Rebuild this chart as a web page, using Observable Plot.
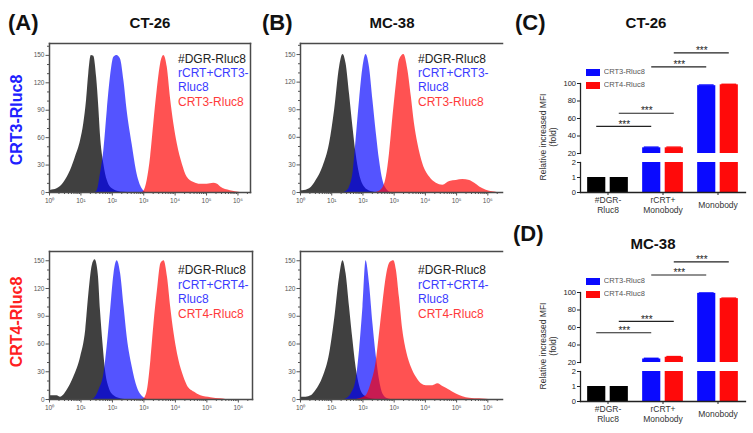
<!DOCTYPE html>
<html><head><meta charset="utf-8">
<script src="https://cdn.jsdelivr.net/npm/d3@7"></script>
<script src="https://cdn.jsdelivr.net/npm/@observablehq/plot@0.6"></script>
<style>
body{margin:0;background:#fff;font-family:Arial,"Liberation Sans",sans-serif}
#fig{position:relative;width:753px;height:433px;overflow:hidden;background:#fff}
.t{position:absolute;white-space:pre;line-height:1}
.p{position:absolute}
</style></head>
<body><div id="fig"></div>
<script>
// ---------- Histogram data: [log10 intensity, count] ----------
const histLogTicks = [0, 1, 2, 3, 4, 5, 6];
const histYTicks = [0, 30, 60, 90, 120, 150];

const ct26Crt3Dgr = [[0,2],[0.03,2.2],[0.24,4],[0.46,11],[0.67,24],[0.83,39],[0.99,57],[1.09,75],[1.18,101],[1.25,130],[1.33,150],[1.41,149],[1.5,126],[1.57,93],[1.62,64],[1.73,31],[1.84,13],[2.0,4],[2.26,0.5],[2.5,0]];
const ct26Crt3Rcrt = [[1.45,0],[1.52,2],[1.62,20],[1.73,46],[1.84,90],[1.94,126],[2.05,148],[2.15,150],[2.26,146],[2.37,122],[2.47,90],[2.63,53],[2.79,20],[2.95,4],[3.06,0]];
const ct26Crt3Only = [[2.95,0],[3.0,1],[3.11,13],[3.22,39],[3.32,75],[3.43,112],[3.54,141],[3.64,150],[3.75,137],[3.85,104],[3.96,75],[4.07,53],[4.23,31],[4.38,17],[4.6,11],[4.81,9],[5.02,9],[5.23,10],[5.35,9],[5.45,6],[5.76,2],[6.08,0]];

const mc38Crt3Dgr = [[0,2],[0.07,2],[0.29,4],[0.5,13],[0.72,28],[0.93,53],[1.09,89],[1.25,136],[1.36,150],[1.46,140],[1.57,107],[1.68,71],[1.78,42],[1.89,20],[2.05,6],[2.26,1],[2.4,0]];
const mc38Crt3Rcrt = [[1.4,0],[1.46,1],[1.57,6],[1.68,21],[1.78,57],[1.89,100],[2.0,136],[2.1,150],[2.21,136],[2.32,100],[2.43,64],[2.53,35],[2.64,13],[2.8,2],[2.9,0]];
const mc38Crt3Only = [[2.4,0],[2.59,3],[2.75,17],[2.85,42],[2.96,82],[3.07,118],[3.17,144],[3.31,150],[3.44,133],[3.55,104],[3.65,75],[3.76,53],[3.92,31],[4.13,17],[4.35,10],[4.56,8],[4.78,12],[4.99,13],[5.2,14],[5.42,13],[5.58,10],[5.74,6],[5.95,2.5],[6.16,0.7],[6.3,0]];

const ct26Crt4Dgr = [[0,3],[0.03,4],[0.24,4],[0.35,2.5],[0.56,10],[0.77,24],[0.99,46],[1.15,75],[1.25,114],[1.36,145],[1.45,151],[1.55,135],[1.62,96],[1.7,60],[1.78,31],[1.89,13],[2.05,4],[2.26,0.7],[2.4,0]];
const ct26Crt4Rcrt = [[1.35,0],[1.41,0.7],[1.57,10],[1.73,28],[1.84,60],[1.94,96],[2.05,136],[2.15,150],[2.26,136],[2.37,100],[2.47,67],[2.63,35],[2.79,13],[3.0,2],[3.1,0]];
const ct26Crt4Only = [[2.95,0],[3.0,0.7],[3.11,10],[3.22,42],[3.32,82],[3.43,118],[3.54,147],[3.64,150],[3.75,132],[3.85,100],[3.96,71],[4.07,49],[4.23,28],[4.38,15],[4.6,8],[4.81,4],[5.13,2],[5.45,0.7],[5.6,0]];

const mc38Crt4Dgr = [[0,2.5],[0.18,2.5],[0.34,4],[0.5,10],[0.72,24],[0.93,49],[1.09,86],[1.25,132],[1.36,150],[1.46,136],[1.57,100],[1.68,64],[1.78,35],[1.89,15],[2.05,4],[2.26,0.7],[2.4,0]];
const mc38Crt4Rcrt = [[1.4,0],[1.46,0.7],[1.62,6],[1.78,21],[1.89,53],[2.0,100],[2.1,150],[2.21,125],[2.32,82],[2.43,46],[2.53,21],[2.64,6],[2.8,0.7],[2.9,0]];
const mc38Crt4Only = [[1.8,0],[1.89,0.7],[2.1,4],[2.26,17],[2.43,42],[2.53,71],[2.64,104],[2.75,133],[2.87,148],[2.99,150],[3.07,140],[3.17,110],[3.28,74],[3.39,53],[3.55,35],[3.71,24],[3.87,17],[4.03,15],[4.24,15],[4.4,17],[4.56,14],[4.78,10],[4.99,6],[5.2,3],[5.42,1.4],[5.74,0.7],[5.95,0.4],[6.1,0]];

// ---------- Bar chart data ----------
const groups = ["#DGR-\nRluc8", "rCRT+\nMonobody", "Monobody"];
const seriesNames = ["CRT3-Rluc8", "CRT4-Rluc8"];
const ct26Crt3Mfi = [1, 26.5, 97.5];
const ct26Crt4Mfi = [1, 26.5, 98.5];
const ct26Crt3Err = [0, 0.8, 0.8];
const ct26Crt4Err = [0, 0.8, 0.6];
const mc38Crt3Mfi = [1, 24, 99];
const mc38Crt4Mfi = [1, 26, 93];
const mc38Crt3Err = [0, 0.8, 0.5];
const mc38Crt4Err = [0, 0.8, 0.6];
// significance comparisons: [groupA, seriesA, groupB, seriesB]
const sigPairs = [[0,0,1,0],[0,1,1,1],[1,0,2,0],[1,1,2,1]];
const ct26SigLevels = [51, 66, 119, 135];
const mc38SigLevels = [54, 67, 120, 135];

// ---------- styles ----------
const FONT = "Arial, 'Liberation Sans', sans-serif";
const grayFill = "#000", blueFill = "#0000ff", redFill = "#ff0000";
const seriesColors = ["#0a0aff", "#ff0a0a"];
const sup = ["\u2070","\u00b9","\u00b2","\u00b3","\u2074","\u2075","\u2076"];
const fig = document.getElementById("fig");

function place(node, left, top) {
  const d = document.createElement("div");
  d.className = "p"; d.style.left = left + "px"; d.style.top = top + "px";
  d.appendChild(node); fig.appendChild(d); return d;
}
function addText(txt, x, y, o = {}) {
  const d = document.createElement("div");
  d.className = "t"; d.textContent = txt;
  d.style.left = x + "px"; d.style.top = y + "px";
  d.style.fontSize = (o.size || 12) + "px";
  d.style.fontWeight = o.weight || "normal";
  d.style.color = o.color || "#222";
  const tx = o.anchor === "middle" ? "-50%" : "0";
  d.style.transform = `translate(${tx},-50%)`;
  if (o.rotate) d.style.transform = `translate(-50%,-50%) rotate(${o.rotate}deg)`;
  fig.appendChild(d);
}

function histogram(series, {xMax, yMax, width, height, marginTop, marginBottom, anchors}) {
  const minorX = d3.range(0, 7).flatMap(n => d3.range(2, 10).map(k => n + Math.log10(k))).filter(v => v < xMax);
  const minorY = d3.range(0, yMax, 10).filter(v => v % 30 !== 0);
  return Plot.plot({
    width, height, marginLeft: 49, marginRight: 5, marginTop, marginBottom,
    style: {background: "transparent", fontFamily: FONT, color: "#555", overflow: "visible"},
    x: {domain: [0, xMax]},
    y: {domain: [0, yMax]},
    marks: [
      ...series.map(s => Plot.areaY(s.data, {x: d => d[0], y: d => d[1], fill: s.color, fillOpacity: s.opacity, curve: "monotone-x"})),
      Plot.axisX({ticks: minorX, tickSize: 2, tickFormat: () => "", label: null}),
      Plot.axisX({ticks: histLogTicks, tickSize: 3.5, tickPadding: 2, tickFormat: d => "10" + sup[d], fontSize: 6.5, label: null}),
      Plot.axisY({ticks: minorY, tickSize: 2, tickFormat: () => "", label: null}),
      Plot.axisY({ticks: histYTicks, tickSize: 3.5, tickPadding: 1.5, tickFormat: d => String(d), fontSize: 6.5, label: null}),
      ...anchors.map(a => Plot.frame({anchor: a, stroke: "#4a4a4a", strokeWidth: 1.5}))
    ]
  });
}

function seriesSet(dgr, rcrt, only) {
  return [
    {data: dgr, color: grayFill, opacity: 0.75},
    {data: rcrt, color: blueFill, opacity: 0.67},
    {data: only, color: redFill, opacity: 0.68}
  ];
}

// Histograms
const full = ["top", "right", "bottom", "left"];
const cropped = ["top", "bottom", "left"];
place(histogram(seriesSet(ct26Crt3Dgr, ct26Crt3Rcrt, ct26Crt3Only), {xMax: 6.4, yMax: 163, width: 255, height: 180, marginTop: 10, marginBottom: 21, anchors: full}), 0, 33);
place(histogram(seriesSet(mc38Crt3Dgr, mc38Crt3Rcrt, mc38Crt3Only), {xMax: 6.47, yMax: 162, width: 256, height: 180, marginTop: 10, marginBottom: 21, anchors: cropped}), 251, 33);
place(histogram(seriesSet(ct26Crt4Dgr, ct26Crt4Rcrt, ct26Crt4Only), {xMax: 6.45, yMax: 160, width: 257, height: 180, marginTop: 10, marginBottom: 22, anchors: full}), 0, 241);
place(histogram(seriesSet(mc38Crt4Dgr, mc38Crt4Rcrt, mc38Crt4Only), {xMax: 6.47, yMax: 160, width: 256, height: 180, marginTop: 10, marginBottom: 22, anchors: cropped}), 251, 241);

// Bar charts (broken y axis: upper 20–100, lower 0–2)
const barW = 0.33, barGap = 0.08;
function barChart(top, crt3, crt4, err3, err4, sigLevels) {
  const rows = groups.flatMap((g, i) => [
    {g: i, s: 0, v: crt3[i], e: err3[i]},
    {g: i, s: 1, v: crt4[i], e: err4[i]}
  ]);
  const xl = d => d.g + (d.s === 0 ? -(barGap / 2 + barW) : barGap / 2);
  const xr = d => xl(d) + barW;
  const center = (g, s) => xl({g, s}) + barW / 2;
  const fillOf = d => d.g === 0 ? "#000" : seriesColors[d.s];
  const common = {
    width: 253, marginLeft: 80, marginRight: 8,
    color: {type: "identity"},
    style: {background: "transparent", fontFamily: FONT, color: "#222", overflow: "visible"}
  };
  const hi = rows.filter(d => d.v > 20);
  const upper = Plot.plot({
    ...common, height: 122, marginTop: 48, marginBottom: 4,
    x: {domain: [-0.5, 2.5], axis: null},
    y: {domain: [20, 100]},
    marks: [
      Plot.rectY(hi, {x1: xl, x2: xr, y1: 20, y2: d => d.v, fill: fillOf}),
      Plot.ruleY(hi, {x1: d => xl(d) + 0.03, x2: d => xr(d) - 0.03, y: d => d.v + d.e, stroke: fillOf, strokeWidth: 1.4}),
      Plot.ruleY(sigPairs, {x1: p => center(p[0], p[1]), x2: p => center(p[2], p[3]), y: (p, i) => sigLevels[i], stroke: "#222", strokeWidth: 1.1}),
      Plot.text(sigPairs, {x: p => (center(p[0], p[1]) + center(p[2], p[3])) / 2, y: (p, i) => sigLevels[i], text: () => "***", dy: -2, fontSize: 10, fill: "#222"}),
      Plot.axisY({ticks: [20, 40, 60, 80, 100], tickSize: 3, tickPadding: 1.5, tickFormat: d => String(d), fontSize: 7.5, label: null}),
      Plot.frame({anchor: "left", stroke: "#222", strokeWidth: 1.3})
    ]
  });
  const lower = Plot.plot({
    ...common, height: 63, marginTop: 5, marginBottom: 28,
    x: {domain: [-0.5, 2.5]},
    y: {domain: [0, 2]},
    marks: [
      Plot.rectY(rows, {x1: xl, x2: xr, y1: 0, y2: d => Math.min(d.v, 2), fill: fillOf}),
      Plot.axisY({ticks: [0, 1, 2], tickSize: 3, tickPadding: 1.5, tickFormat: d => String(d), fontSize: 7.5, label: null}),
      Plot.axisX({ticks: [0, 1, 2], tickSize: 3, tickFormat: () => "", label: null}),
      Plot.text(groups, {x: (d, i) => i, frameAnchor: "bottom", dy: 12, lineAnchor: "middle", fontSize: 8.5, lineHeight: 1.2, fill: "#333"}),
      Plot.frame({anchor: "left", stroke: "#222", strokeWidth: 1.3}),
      Plot.frame({anchor: "bottom", stroke: "#222", strokeWidth: 1.3})
    ]
  });
  place(upper, 500, top);
  place(lower, 500, top + 122);
  const leg = Plot.legend({
    color: {type: "ordinal", domain: seriesNames, range: seriesColors},
    legend: "swatches", columns: 1, swatchWidth: 14, swatchHeight: 7,
    style: {fontFamily: FONT, fontSize: "7.5px", color: "#555", lineHeight: "12px", margin: "0"}
  });
  place(leg, 586, top + 31);
  addText("Relative increased MFI", 543, top + 102, {size: 8.5, rotate: -90, color: "#333"});
  addText("(fold)", 553, top + 102, {size: 8.5, rotate: -90, color: "#333"});
}
barChart(35, ct26Crt3Mfi, ct26Crt4Mfi, ct26Crt3Err, ct26Crt4Err, ct26SigLevels);
barChart(244, mc38Crt3Mfi, mc38Crt4Mfi, mc38Crt3Err, mc38Crt4Err, mc38SigLevels);

// Titles and panel letters
addText("(A)", 8, 23, {size: 22, weight: "bold", color: "#111"});
addText("CT-26", 150, 22, {size: 15, weight: "bold", color: "#111", anchor: "middle"});
addText("(B)", 262, 23, {size: 22, weight: "bold", color: "#111"});
addText("MC-38", 392, 22, {size: 15, weight: "bold", color: "#111", anchor: "middle"});
addText("(C)", 515, 23, {size: 22, weight: "bold", color: "#111"});
addText("CT-26", 646, 22, {size: 15, weight: "bold", color: "#111", anchor: "middle"});
addText("(D)", 513, 234, {size: 22, weight: "bold", color: "#111"});
addText("MC-38", 653, 243, {size: 15, weight: "bold", color: "#111", anchor: "middle"});
addText("CRT3-Rluc8", 17, 120, {size: 16, weight: "bold", color: "#2020ff", rotate: -90});
addText("CRT4-Rluc8", 17, 322, {size: 16, weight: "bold", color: "#ff2020", rotate: -90});

// Histogram legends
const legendLines = (cell) => ["#DGR-Rluc8", "rCRT+" + cell + "-", "Rluc8", cell + "-Rluc8"];
const legendColors = ["#222", "#3b3bff", "#3b3bff", "#ff3b3b"];
function histLegend(cell, x, ys) {
  legendLines(cell).forEach((t, i) => addText(t, x, ys[i], {size: 12, color: legendColors[i]}));
}
histLegend("CRT3", 178, [59, 73, 87, 102]);
histLegend("CRT3", 418, [59, 73, 87, 102]);
histLegend("CRT4", 178, [270, 284.5, 299, 313.5]);
histLegend("CRT4", 418, [270, 284.5, 299, 313.5]);
</script></body></html>
